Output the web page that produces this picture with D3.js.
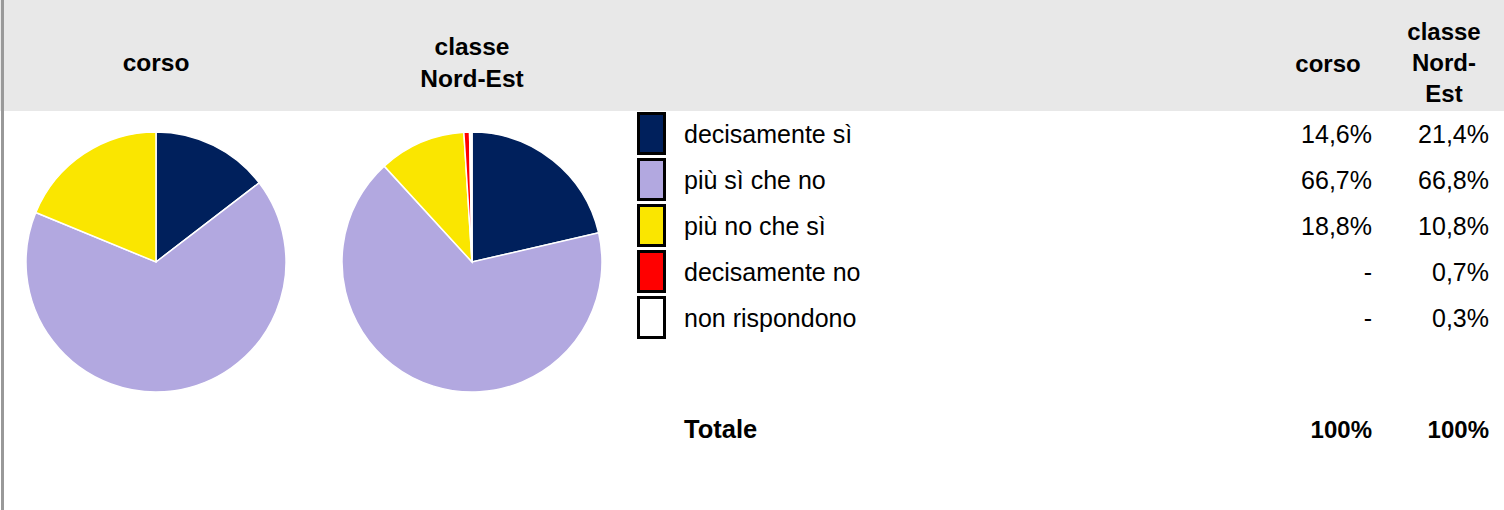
<!DOCTYPE html>
<html>
<head>
<meta charset="utf-8">
<script src="https://cdn.jsdelivr.net/npm/d3@7"></script>
<style>
  html, body { margin: 0; padding: 0; background: #fff; }
  svg { display: block; font-family: "Liberation Sans", Arial, sans-serif; }
</style>
</head>
<body>
<div id="chart"></div>
<script>
// Data
const categories = ["decisamente sì", "più sì che no", "più no che sì", "decisamente no", "non rispondono"];
const corsoValues = [14.6, 66.7, 18.8, 0, 0];
const nordEstValues = [21.4, 66.8, 10.8, 0.7, 0.3];
const sliceColors = ["#00205c", "#b2a8e0", "#fae600", "#ff0000", "#ffffff"];
const columnNames = [["corso"], ["classe", "Nord-Est"]];
const tableHeads = [["corso"], ["classe", "Nord-", "Est"]];
const totalLabel = "Totale";
const totalValues = ["100%", "100%"];

const W = 1504, H = 510;
const it = d3.formatLocale({ decimal: ",", thousands: ".", grouping: [3], currency: ["€", ""] });
const fmt = v => v === 0 ? "-" : it.format(".1f")(v) + "%";

const svg = d3.select("#chart").append("svg")
  .attr("width", W)
  .attr("height", H);

// header band + left rule
svg.append("rect").attr("x", 0).attr("y", 0).attr("width", W).attr("height", 111).attr("fill", "#e8e8e8");
svg.append("rect").attr("x", 1).attr("y", 0).attr("width", 3).attr("height", H).attr("fill", "#999");

// Pie headers
const pieCx = d3.scalePoint().domain([0, 1]).range([156, 472]);
columnNames.forEach((lines, i) => {
  const t = svg.append("text")
    .attr("text-anchor", "middle")
    .attr("font-size", "24.5px")
    .attr("font-weight", "bold")
    .attr("fill", "#000");
  const y0 = lines.length === 1 ? 71 : 55;
  lines.forEach((l, k) => {
    t.append("tspan").attr("x", pieCx(i)).attr("y", y0 + k * 32).text(l);
  });
});

// Pies
const pie = d3.pie().sort(null).value(d => d);
const arc = d3.arc().innerRadius(0).outerRadius(130);
[corsoValues, nordEstValues].forEach((vals, i) => {
  const g = svg.append("g").attr("transform", `translate(${pieCx(i)},262)`);
  g.selectAll("path")
    .data(pie(vals).filter(d => d.value > 0))
    .enter().append("path")
    .attr("d", arc)
    .attr("fill", d => sliceColors[d.index])
    .attr("stroke", "#fff")
    .attr("stroke-width", 1.5);
});

// Legend table
const rowY = d3.scaleLinear().domain([0, 4]).range([133.5, 317.5]);
const colX = [1372, 1489];

const rows = svg.selectAll("g.row")
  .data(categories)
  .enter().append("g")
  .attr("class", "row")
  .attr("transform", (d, i) => `translate(0,${rowY(i)})`);

rows.append("rect")
  .attr("x", 638.5)
  .attr("y", -20)
  .attr("width", 26)
  .attr("height", 40)
  .attr("fill", (d, i) => sliceColors[i])
  .attr("stroke", "#000")
  .attr("stroke-width", 3);

rows.append("text")
  .attr("x", 684)
  .attr("y", 9)
  .attr("font-size", "25px")
  .text(d => d);

[corsoValues, nordEstValues].forEach((vals, c) => {
  rows.append("text")
    .attr("x", colX[c])
    .attr("y", 9)
    .attr("text-anchor", "end")
    .attr("font-size", "25px")
    .text((d, i) => fmt(vals[i]));
});

// Table headers
tableHeads.forEach((lines, c) => {
  const t = svg.append("text")
    .attr("text-anchor", "middle")
    .attr("font-size", "24px")
    .attr("font-weight", "bold");
  const x = c === 0 ? 1328 : 1444;
  const y0 = lines.length === 1 ? 72 : 40;
  lines.forEach((l, k) => {
    t.append("tspan").attr("x", x).attr("y", y0 + k * 31).text(l);
  });
});

// Totale
svg.append("text")
  .attr("x", 684)
  .attr("y", 438)
  .attr("font-size", "25.5px")
  .attr("font-weight", "bold")
  .text(totalLabel);
totalValues.forEach((v, c) => {
  svg.append("text")
    .attr("x", colX[c])
    .attr("y", 438)
    .attr("text-anchor", "end")
    .attr("font-size", "24px")
    .attr("font-weight", "bold")
    .text(v);
});
</script>
</body>
</html>
